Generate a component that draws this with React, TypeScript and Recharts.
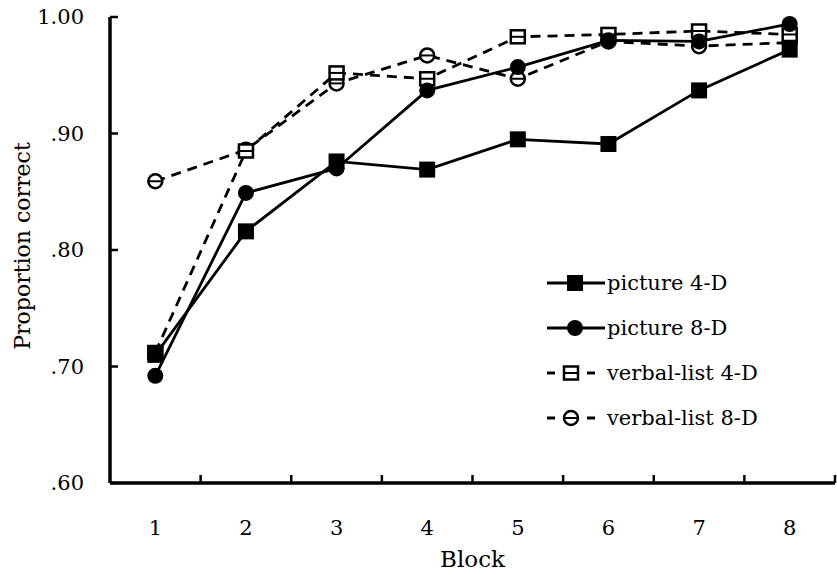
import React from 'react';
import { LineChart, Line, XAxis, YAxis, Legend } from 'recharts';

// values
const blocks = [1, 2, 3, 4, 5, 6, 7, 8];
const picture4D = [0.710, 0.816, 0.876, 0.869, 0.895, 0.891, 0.937, 0.972];
const picture8D = [0.692, 0.849, 0.870, 0.937, 0.957, 0.980, 0.979, 0.994];
const verbal4D = [0.712, 0.885, 0.952, 0.947, 0.983, 0.985, 0.988, 0.985];
const verbal8D = [0.859, 0.886, 0.943, 0.967, 0.947, 0.979, 0.975, 0.978];
const yTicks = [0.6, 0.7, 0.8, 0.9, 1.0];

const data = blocks.map((b, i) => ({
  block: b,
  p4: picture4D[i],
  p8: picture8D[i],
  v4: verbal4D[i],
  v8: verbal8D[i],
}));

const W = 837;
const H = 575;
const LEFT = 110;
const RIGHT = 2;
const TOP = 17;
const BOTTOM = 92;
const BAND = (W - LEFT - RIGHT) / blocks.length;
const Y_MARGIN = 26;
const X_MARGIN = 45;
const FONT = '"DejaVu Serif", serif';
const INK = '#000';

const fmtY = (v: number) => (v >= 1 ? '1.00' : v.toFixed(2).replace(/^0/, ''));

const FilledSquare = ({ cx, cy }: any) => (
  <rect x={cx - 8} y={cy - 8} width={16} height={16} fill={INK} />
);
const FilledCircle = ({ cx, cy }: any) => <circle cx={cx} cy={cy} r={8} fill={INK} />;
const HollowSquare = ({ cx, cy }: any) => (
  <g>
    <rect x={cx - 7} y={cy - 6.5} width={14} height={13} fill="#fff" stroke={INK} strokeWidth={2.5} />
    <line x1={cx - 7} x2={cx + 7} y1={cy} y2={cy} stroke={INK} strokeWidth={2} />
  </g>
);
const HollowCircle = ({ cx, cy }: any) => (
  <g>
    <circle cx={cx} cy={cy} r={7} fill="#fff" stroke={INK} strokeWidth={2.5} />
    <line x1={cx - 7} x2={cx + 7} y1={cy} y2={cy} stroke={INK} strokeWidth={2} />
  </g>
);

const series = [
  { key: 'p4', name: 'picture 4-D', dashed: false, Marker: FilledSquare },
  { key: 'p8', name: 'picture 8-D', dashed: false, Marker: FilledCircle },
  { key: 'v4', name: 'verbal-list 4-D', dashed: true, Marker: HollowSquare },
  { key: 'v8', name: 'verbal-list 8-D', dashed: true, Marker: HollowCircle },
];

const YTick = ({ x, y, payload }: any) => (
  <g>
    <line x1={x + Y_MARGIN} x2={x + Y_MARGIN + 8} y1={y} y2={y} stroke={INK} strokeWidth={2.5} />
    <text x={x} y={y} dy="0.35em" textAnchor="end" fontFamily={FONT} fontSize={21} fill={INK}>
      {fmtY(payload.value)}
    </text>
  </g>
);

const XTick = ({ x, y, payload }: any) => {
  const axisY = y - X_MARGIN;
  return (
    <g>
      <line x1={x + BAND / 2} x2={x + BAND / 2} y1={axisY} y2={axisY - 8} stroke={INK} strokeWidth={2.5} />
      <text x={x} y={y} dy="0.35em" textAnchor="middle" fontFamily={FONT} fontSize={21} fill={INK}>
        {payload.value}
      </text>
    </g>
  );
};

const LegendBox = () => (
  <div style={{ fontFamily: FONT, fontSize: 21, color: INK }}>
    {series.map((s) => {
      const M = s.Marker;
      return (
        <div key={s.key} style={{ display: 'flex', alignItems: 'center', height: 45 }}>
          <svg width={62} height={24}>
            {s.dashed ? (
              <g stroke={INK} strokeWidth={3}>
                <line x1={2} x2={10} y1={12} y2={12} />
                <line x1={42} x2={50} y1={12} y2={12} />
              </g>
            ) : (
              <line x1={2} x2={60} y1={12} y2={12} stroke={INK} strokeWidth={3} />
            )}
            <M cx={s.dashed ? 26 : 30} cy={12} />
          </svg>
          <span>{s.name}</span>
        </div>
      );
    })}
  </div>
);

export default function App() {
  return (
    <div style={{ position: 'absolute', left: 0, top: 0, background: '#fff' }}>
      <LineChart width={W} height={H} data={data} margin={{ top: TOP, right: RIGHT, left: 0, bottom: 0 }}>
        <XAxis
          dataKey="block"
          type="number"
          domain={[0.5, 8.5]}
          ticks={blocks}
          height={BOTTOM}
          tickSize={0}
          tickMargin={X_MARGIN}
          tickLine={false}
          axisLine={{ stroke: INK, strokeWidth: 3.5 }}
          tick={<XTick />}
          label={{
            content: () => (
              <text x={LEFT + (W - LEFT - RIGHT) / 2} y={567} textAnchor="middle" fontFamily={FONT} fontSize={23} fill={INK}>
                Block
              </text>
            ),
          }}
        />
        <YAxis
          type="number"
          domain={[0.6, 1.0]}
          ticks={yTicks}
          width={LEFT}
          tickSize={0}
          tickMargin={Y_MARGIN}
          tickLine={false}
          axisLine={{ stroke: INK, strokeWidth: 3.5 }}
          tick={<YTick />}
          label={{
            content: () => (
              <text
                x={22}
                y={246}
                transform="rotate(-90, 22, 246)"
                textAnchor="middle"
                dominantBaseline="central"
                fontFamily={FONT}
                fontSize={22}
                fill={INK}
              >
                Proportion correct
              </text>
            ),
          }}
        />
        <Legend
          layout="vertical"
          align="center"
          verticalAlign="middle"
          content={<LegendBox />}
          wrapperStyle={{ left: 545, top: 260, width: 280 }}
        />
        {series
          .slice()
          .reverse()
          .map((s) => (
            <Line
              key={s.key}
              dataKey={s.key}
              name={s.name}
              type="linear"
              stroke={INK}
              strokeWidth={2.8}
              strokeDasharray={s.dashed ? '10 7' : undefined}
              dot={(p: any) => <s.Marker key={p.key ?? `${s.key}-${p.index}`} cx={p.cx} cy={p.cy} />}
              activeDot={false}
              isAnimationActive={false}
            />
          ))}
      </LineChart>
    </div>
  );
}
